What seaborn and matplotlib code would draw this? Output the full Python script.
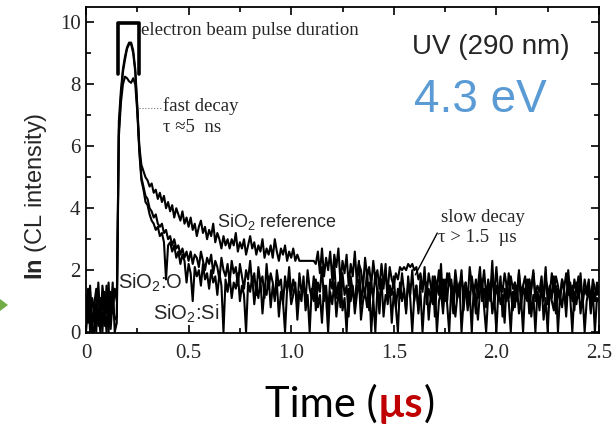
import numpy as np
import pandas as pd
import matplotlib
matplotlib.use("Agg")
import matplotlib.pyplot as plt
from matplotlib.patches import Polygon
import seaborn as sns

# time axis in microseconds, one sample every 10 ns
time_us = np.round(np.linspace(0, 2.5, 251), 2)

# ln(CL intensity), 10 values per row (0.00-0.09, 0.10-0.19, ...)
sio2_reference = [
    1.2, 0.3, 1.5, 0.0, 0.9, 1.4, 0.2, 1.1, 0.0, 1.3,
    0.6, 1.6, 0.1, 1.0, 0.4, 0.5, 6.8, 7.8, 8.5, 8.9,
    9.2, 9.35, 9.35, 9.1, 8.5, 7.3, 6.0, 5.4, 5.2, 5.0,
    4.9, 4.7, 4.8, 4.5, 4.6, 4.3, 4.5, 4.2, 4.4, 4.0,
    4.2, 3.9, 4.1, 3.7, 4.0, 3.8, 3.6, 3.9, 3.5, 3.7,
    3.4, 3.7, 3.3, 3.5, 3.1, 3.4, 3.6, 3.2, 3.4, 3.0,
    3.3, 3.1, 3.5, 2.9, 3.2, 3.0, 2.7, 3.1, 2.8, 3.0,
    2.7, 3.0, 2.8, 3.2, 2.6, 2.9, 2.7, 3.0, 2.5, 2.8,
    3.1, 2.7, 2.9, 2.5, 2.8, 2.6, 3.0, 2.4, 2.7, 2.5,
    2.8, 2.4, 3.0, 2.6, 2.3, 2.7, 2.5, 2.8, 2.3, 2.6,
    2.4, 2.7, 2.3, 2.5, 2.3, 2.3, 2.3, 2.3, 2.3, 2.3,
    2.3, 2.3, 2.2, 2.6, 1.9, 2.7, 1.8, 2.4, 2.0, 2.6,
    1.7, 2.5, 2.1, 2.7, 1.6, 2.3, 1.9, 2.5, 1.5, 2.2,
    1.8, 2.6, 1.6, 2.2, 2.0, 1.4, 2.4, 1.8, 2.1, 1.5,
    2.3, 1.7, 2.0, 1.4, 2.2, 1.6, 1.9, 1.3, 2.1, 1.7,
    1.5, 1.9, 1.7, 2.1, 2.0, 2.1, 2.0, 2.2, 2.1, 2.2,
    2.0, 2.1, 1.7, 1.9, 1.4, 1.8, 1.2, 1.9, 1.5, 1.1,
    1.8, 1.4, 2.0, 1.2, 1.7, 1.0, 1.9, 1.5, 1.7, 1.1,
    2.0, 1.4, 1.2, 1.8, 1.3, 1.6, 1.0, 2.1, 1.5, 1.2,
    1.7, 1.1, 1.8, 1.4, 2.0, 1.2, 1.6, 1.0, 1.8, 1.3,
    2.1, 1.2, 1.6, 1.3, 1.9, 1.5, 1.1, 1.8, 1.4, 1.6,
    1.0, 1.9, 1.3, 1.5, 1.8, 1.1, 1.7, 1.4, 2.0, 1.2,
    1.5, 1.3, 1.8, 1.0, 1.7, 1.4, 1.2, 1.9, 1.3, 1.8,
    1.5, 1.1, 1.7, 1.4, 1.9, 1.2, 1.6, 1.0, 1.7, 1.3,
    1.8, 1.4, 1.1, 1.7, 1.3, 1.6, 1.0, 1.7, 1.4, 1.2,
    1.5,
]
sio2_o = [
    0.5, 1.4, 0.0, 1.1, 0.7, 0.0, 1.6, 0.4, 1.2, 0.2,
    1.5, 0.0, 1.3, 0.6, 1.4, 1.0, 6.5, 7.6, 8.4, 8.8,
    9.15, 9.3, 9.3, 9.0, 8.4, 7.2, 5.9, 5.0, 4.7, 4.4,
    4.3, 4.0, 3.9, 3.7, 3.8, 3.5, 3.4, 3.5, 3.2, 3.3,
    3.0, 3.1, 2.8, 3.0, 2.7, 2.8, 2.5, 2.7, 2.4, 2.6,
    2.3, 2.6, 2.2, 2.5, 2.4, 2.1, 2.6, 2.3, 2.0, 2.4,
    2.2, 2.5, 1.9, 2.3, 2.1, 1.7, 2.4, 2.0, 1.8, 2.2,
    1.6, 2.3, 1.9, 2.1, 1.5, 2.2, 1.8, 1.4, 2.0, 1.7,
    2.3, 1.5, 1.9, 1.2, 2.1, 1.6, 1.8, 1.1, 2.2, 1.4,
    1.9, 1.6, 1.0, 2.0, 1.5, 1.7, 0.9, 1.8, 1.3, 2.1,
    1.2, 1.7, 1.4, 0.8, 1.9, 1.3, 1.6, 1.0, 2.0, 1.4,
    1.1, 1.8, 0.7, 1.6, 1.3, 2.1, 1.0, 1.5, 0.6, 1.7,
    1.4, 2.2, 1.1, 1.6, 0.8, 1.9, 1.2, 1.5, 0.5, 1.8,
    1.3, 1.0, 1.7, 2.3, 0.9, 1.5, 1.2, 2.0, 0.7, 1.6,
    1.1, 1.9, 1.3, 0.6, 1.7, 1.4, 2.2, 0.9, 1.5, 1.2,
    1.8, 0.8, 1.4, 1.1, 1.9, 1.3, 0.7, 1.6, 1.2, 2.0,
    1.0, 1.5, 0.6, 1.7, 1.3, 2.1, 0.9, 1.4, 1.1, 1.8,
    0.5, 1.6, 1.2, 2.2, 0.8, 1.5, 1.0, 1.9, 1.3, 0.6,
    1.7, 1.1, 1.4, 2.0, 0.7, 1.6, 1.2, 0.9, 1.8, 1.3,
    0.6, 1.5, 2.1, 1.0, 1.4, 0.8, 1.7, 1.2, 2.3, 0.9,
    1.5, 1.1, 1.8, 0.5, 1.4, 1.0, 1.9, 1.3, 0.7, 1.6,
    1.2, 2.0, 0.8, 1.5, 1.1, 1.7, 0.6, 1.4, 1.9, 1.0,
    1.3, 0.7, 1.6, 1.2, 2.1, 0.9, 1.5, 1.1, 1.8, 0.6,
    1.4, 1.0, 1.7, 1.3, 0.8, 2.0, 1.2, 1.5, 0.7, 1.6,
    1.1, 1.9, 0.9, 1.4, 1.2, 1.7, 0.6, 1.5, 1.0, 1.6,
    1.2,
]
sio2_si = [
    0.0, 0.8, 1.3, 0.2, 0.0, 1.0, 0.6, 0.0, 1.5, 0.9,
    0.0, 1.1, 0.5, 1.6, 0.0, 0.3, 6.3, 7.4, 8.0, 8.25,
    8.2, 8.1, 8.05, 8.2, 8.0, 7.1, 5.8, 4.9, 4.6, 4.2,
    4.1, 3.8, 3.6, 3.5, 3.3, 3.4, 3.1, 3.2, 2.9, 1.7,
    2.8, 2.9, 2.6, 2.8, 2.4, 2.6, 2.2, 2.5, 2.3, 1.6,
    2.2, 1.9, 1.0, 2.1, 1.8, 2.0, 1.5, 2.2, 1.7, 1.9,
    1.4, 2.0, 1.6, 1.8, 1.2, 1.9, 1.5, 0.0, 1.7, 1.3,
    1.8, 1.1, 1.6, 1.4, 1.9, 1.0, 1.5, 1.2, 0.0, 1.6,
    1.3, 1.8, 0.9, 1.5, 1.1, 1.7, 0.6, 1.4, 1.2, 1.8,
    0.8, 1.5, 1.1, 1.6, 0.5, 1.3, 1.0, 0.0, 1.4, 1.7,
    0.9, 1.2, 1.6, 0.4, 1.3, 1.0, 1.8, 0.7, 1.2, 0.0,
    1.4, 1.0, 1.7, 0.8, 1.2, 0.3, 1.5, 1.1, 0.0, 1.3,
    0.9, 1.6, 0.5, 1.2, 1.8, 0.7, 1.1, 0.0, 1.4, 1.0,
    1.5, 0.6, 1.2, 1.7, 0.4, 1.0, 1.3, 0.8, 1.6, 0.0,
    1.1, 0.0, 1.4, 0.9, 1.7, 0.5, 1.2, 1.0, 1.5, 0.3,
    1.3, 0.8, 0.0, 1.6, 1.0, 1.4, 0.6, 1.8, 1.1, 0.0,
    1.2, 1.5, 0.7, 1.3, 0.0, 1.1, 1.6, 0.4, 1.2, 0.9,
    1.5, 0.0, 1.0, 1.3, 0.6, 1.7, 0.9, 0.0, 1.4, 1.1,
    0.5, 1.2, 1.6, 0.0, 1.0, 1.4, 0.7, 1.3, 0.0, 1.5,
    1.0, 0.4, 1.3, 1.7, 0.8, 0.0, 1.2, 1.5, 0.6, 1.1,
    0.0, 1.4, 0.9, 1.2, 0.3, 1.6, 1.0, 0.0, 1.3, 0.8,
    1.5, 0.6, 1.1, 0.0, 1.4, 1.0, 1.7, 0.5, 1.2, 0.0,
    1.3, 0.9, 1.6, 0.4, 1.1, 0.0, 1.4, 1.0, 0.7, 1.5,
    0.0, 1.2, 0.8, 1.4, 0.5, 1.6, 1.1, 0.0, 1.3, 0.9,
    1.5, 0.6, 1.2, 0.0, 1.0, 1.4, 0.7, 1.3, 0.0, 1.1,
    1.0,
]
assert len(sio2_reference) == len(sio2_o) == len(sio2_si) == len(time_us)

x_ticks = [0, 0.5, 1.0, 1.5, 2.0, 2.5]
x_tick_labels = ['0', '0.5', '1.0', '1.5', '2.0', '2.5']
y_ticks = [0, 2, 4, 6, 8, 10]

# electron beam pulse bracket
pulse_start, pulse_end = 0.155, 0.257
pulse_top, pulse_bottom = 9.98, 8.35

df = pd.DataFrame({
    'Time': np.tile(time_us, 3),
    'lnCL': sio2_reference + sio2_o + sio2_si,
    'Sample': ['ref'] * 251 + ['O'] * 251 + ['Si'] * 251,
})

sns.set_style("ticks")
plt.rcParams['font.family'] = ['Liberation Serif', 'DejaVu Serif']
plt.rcParams['mathtext.fontset'] = 'custom'
plt.rcParams['mathtext.rm'] = 'Liberation Sans'
plt.rcParams['mathtext.it'] = 'Liberation Sans:italic'
plt.rcParams['mathtext.bf'] = 'Liberation Sans:bold'

fig, ax = plt.subplots(figsize=(6.13, 4.25), dpi=100)
ax.set_position([86 / 613, 92 / 425, 513 / 613, 326 / 425])

sns.lineplot(data=df, x='Time', y='lnCL', hue='Sample',
             palette={'ref': 'black', 'O': 'black', 'Si': 'black'},
             estimator=None, lw=1.5, legend=False, ax=ax)

ax.set_xlim(0, 2.5)
ax.set_ylim(-0.03, 10.5)
ax.set_xticks(x_ticks)
ax.set_xticklabels(x_tick_labels)
ax.set_xticks(np.arange(0.25, 2.5, 0.5), minor=True)
ax.set_yticks(y_ticks)
ax.set_yticks([1, 3, 5, 7, 9], minor=True)
ax.tick_params(which='both', direction='in', top=True, right=True, width=1.2, color='black')
ax.tick_params(which='major', length=6, labelsize=15)
ax.tick_params(which='minor', length=3.5)
ax.tick_params(axis='x', which='major', pad=8)
ax.tick_params(axis='y', which='major', pad=4)
for s in ax.spines.values():
    s.set_linewidth(1.3)
    s.set_color('black')

ax.set_xlabel('')
ax.set_ylabel(r'$\mathbf{In}$ (CL intensity)', fontsize=17, family='Liberation Sans')
ax.yaxis.set_label_coords(-0.072, 0.42)

# pulse duration bracket and annotations
ax.plot([pulse_start, pulse_start, pulse_end, pulse_end],
        [pulse_bottom, pulse_top, pulse_top, pulse_bottom], color='black', lw=2.6)
ax.text(0.27, 9.75, 'electron beam pulse duration', fontsize=13.5, va='center')
ax.plot([0.258, 0.37], [7.25, 7.25], color='0.45', lw=0.8, ls=':')
ax.text(0.375, 7.3, 'fast decay', fontsize=13.5, va='center')
ax.text(0.375, 6.6, 'τ ≈5  ns', fontsize=13.5, va='center')
ax.text(1.73, 3.7, 'slow decay', fontsize=13.5, va='center')
ax.text(1.715, 3.05, 'τ > 1.5  µs', fontsize=13.5, va='center')
ax.plot([1.712, 1.605], [3.2, 1.85], color='black', lw=1.0)

ax.text(0.64, 3.55, r'SiO$_2$ reference', fontsize=13, family='Liberation Sans', va='center')
ax.text(0.156, 1.6, r'SiO$_2$:O', fontsize=14.5, family='Liberation Sans', va='center')
ax.text(0.327, 0.6, r'SiO$_2$:Si', fontsize=14.5, family='Liberation Sans', va='center')

ax.text(1.59, 9.2, 'UV (290 nm)', fontsize=20, family='Liberation Sans', va='center')
ax.text(1.6, 7.5, '4.3 eV', fontsize=33, family='Liberation Sans', color='#5b9bd5', va='center')

# green arrow tip at the left edge of the picture
arrow_px = np.array([[0, 299], [8, 305], [0, 311]], dtype=float)
arrow_fig = np.column_stack([arrow_px[:, 0] / 613, 1 - arrow_px[:, 1] / 425])
fig.patches.append(Polygon(arrow_fig, closed=True, transform=fig.transFigure,
                           facecolor='#70ad47', edgecolor='none'))

# x label "Time (µs)" with the unit in bold red
fig.canvas.draw()
renderer = fig.canvas.get_renderer()
x = 265 / 613
y = 8 / 425
for part, col, wt in [('Time (', 'black', 'normal'), ('µs', '#c00000', 'bold'), (')', 'black', 'normal')]:
    t = fig.text(x, y, part, color=col, fontweight=wt, fontsize=30,
                 family=['Lato', 'DejaVu Sans'], va='baseline')
    bb = t.get_window_extent(renderer=renderer)
    x = fig.transFigure.inverted().transform((bb.x1, bb.y0))[0]

fig.savefig('out.png', dpi=100)
